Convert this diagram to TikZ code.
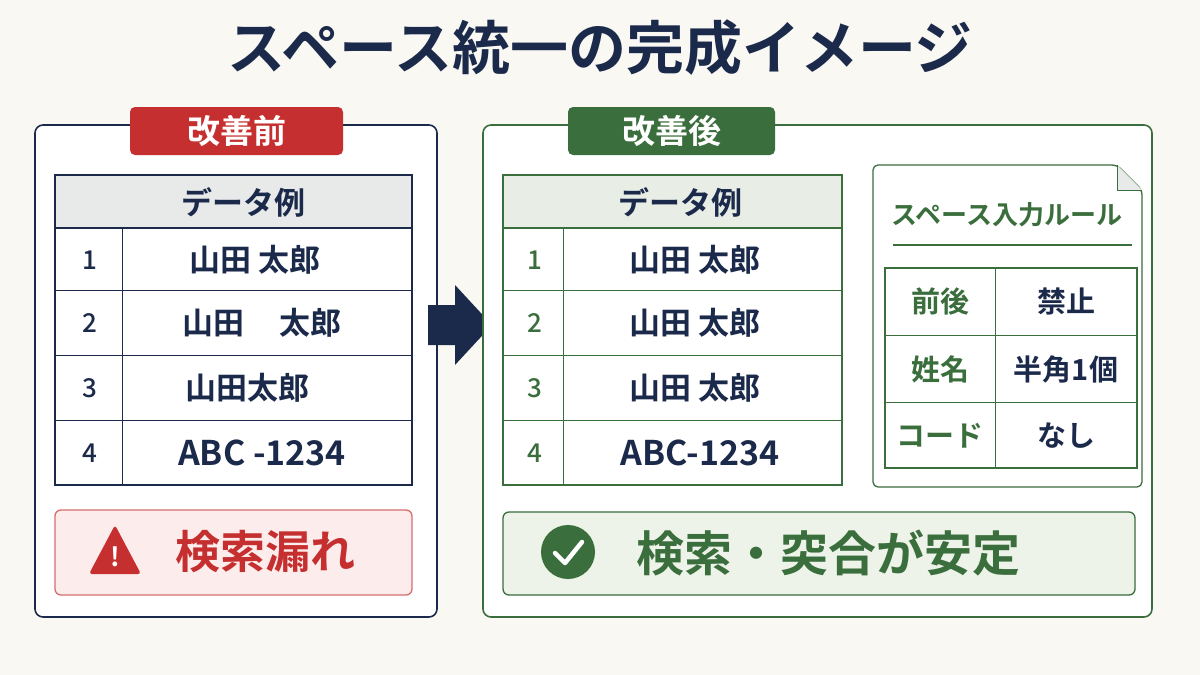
\documentclass[tikz,border=0pt]{standalone}
\usepackage{fontspec}
\setmainfont{Noto Sans CJK JP}[BoldFont={* Bold}]
\newfontfamily\jpb{Noto Sans CJK JP Bold}
\newfontfamily\jpm{Noto Sans CJK JP Medium}
\usetikzlibrary{shapes.geometric}
\definecolor{bg}{HTML}{FAF8F3}
\definecolor{navy}{HTML}{1B2A4A}
\definecolor{redc}{HTML}{C62F2F}
\definecolor{redl}{HTML}{FCEDEC}
\definecolor{grn}{HTML}{3A6E3C}
\definecolor{grnl}{HTML}{EEF3EA}
\definecolor{hdr}{HTML}{E8E9E9}
\definecolor{hdrg}{HTML}{E8EDE6}
\tikzset{
 panel/.style={line width=1.6pt, rounded corners=8pt, fill=white},
 tag/.style={rounded corners=5pt, text=white, font=\jpb\fontsize{33}{33}\selectfont},
 cell/.style={font=\jpb\fontsize{31}{31}\selectfont, text=navy},
 rc/.style={font=\jpb\fontsize{29}{29}\selectfont},
 num/.style={font=\jpm\fontsize{26}{26}\selectfont},
}
\begin{document}
\begin{tikzpicture}[x=1pt,y=-1pt]
\fill[bg] (0,0) rectangle (1200,675);
\useasboundingbox (0,0) rectangle (1200,675);
\node[font=\jpb\fontsize{58}{58}\selectfont, text=navy] (title) at (600,48) {スペース統一の完成イメージ};
% left panel
\draw[panel, draw=navy] (35,125) rectangle (437,617);
\fill[tag, fill=redc] (130,107) rectangle (343,155);
\node[tag] (tagL) at (236.5,131) {改善前};
\draw[navy, line width=1.2pt, fill=hdr] (55,175) rectangle (412,228);
\draw[navy, line width=1.2pt] (55,175) rectangle (412,485);
\foreach \y in {228,290,355,420} \draw[navy, line width=1pt] (55,\y) -- (412,\y);
\draw[navy, line width=1pt] (122,228) -- (122,485);
\node[cell] (hL) at (243,202) {データ例};
\node[num,text=navy] (l1) at (90,260) {1};
\node[num,text=navy] (l2) at (90,323) {2};
\node[num,text=navy] (l3) at (90,388) {3};
\node[num,text=navy] (l4) at (90,453) {4};
\node[cell] (t1) at (255,260) {山田 太郎};
\node[cell] (t2) at (262,323) {山田\hspace{1.1em}太郎};
\node[cell] (t3) at (247,388) {山田太郎};
\node[cell,font=\jpb\fontsize{34}{34}\selectfont] (t4) at (262,453) {ABC -1234};
\draw[redc!70, line width=1.3pt, fill=redl, rounded corners=6pt] (55,510) rectangle (412,595);
\fill[redc, rounded corners=3pt] (115,525) -- (141,574) -- (89,574) -- cycle;
\node[text=white, font=\jpb\fontsize{26}{26}\selectfont] (ex) at (115,557) {!};
\node[text=redc, font=\jpb\fontsize{45}{45}\selectfont] (warn) at (265,552) {検索漏れ};
% arrow
\fill[navy] (428,305) -- (455,305) -- (455,285) -- (492,325) -- (455,365) -- (455,345) -- (428,345) -- cycle;
% right panel
\draw[panel, draw=grn] (483,125) rectangle (1152,617);
\fill[tag, fill=grn] (568,107) rectangle (775,155);
\node[tag] (tagR) at (671.5,131) {改善後};
\draw[grn, line width=1.2pt, fill=hdrg] (503,175) rectangle (842,228);
\draw[grn, line width=1.2pt] (503,175) rectangle (842,485);
\foreach \y in {228,290,355,420} \draw[grn, line width=1pt] (503,\y) -- (842,\y);
\draw[grn, line width=1pt] (563,228) -- (563,485);
\node[cell] (hR) at (680,202) {データ例};
\foreach \n/\y in {1/260,2/323,3/388} {
 \node[num,text=grn] (r\n) at (535,\y) {\n};
 \node[cell] (s\n) at (695,\y) {山田 太郎};
}
\node[num,text=grn] (r4) at (535,453) {4};
\node[cell,font=\jpb\fontsize{34}{34}\selectfont] (s4) at (700,453) {ABC-1234};
% rule card
\draw[grn, line width=1.3pt, fill=white, rounded corners=5pt] (873,165) -- (1117,165) -- (1142,190) -- (1142,487) -- (873,487) -- cycle;
\draw[grn, line width=1pt, fill=hdr] (1117,165) -- (1117,190) -- (1142,190);
\node[font=\jpb\fontsize{26}{26}\selectfont, text=grn] (rt) at (1007,215) {スペース入力ルール};
\draw[grn, line width=1.2pt] (893,245) -- (1132,245);
\draw[grn, line width=1.1pt] (885,268) rectangle (1137,468);
\draw[grn, line width=1pt] (885,335) -- (1137,335) (885,402) -- (1137,402) (995,268) -- (995,468);
\node[rc,text=grn] (a1) at (940,301) {前後};
\node[rc,text=grn] (a2) at (940,369) {姓名};
\node[rc,text=grn] (a3) at (940,436) {コード};
\node[rc,text=navy] (b1) at (1066,301) {禁止};
\node[rc,text=navy] (b2) at (1066,369) {半角1個};
\node[rc,text=navy] (b3) at (1066,436) {なし};
% ok box
\draw[grn, line width=1.3pt, fill=grnl, rounded corners=6pt] (503,512) rectangle (1135,595);
\fill[grn] (568,552) circle (27);
\draw[white, line width=4.5pt, line cap=round, line join=round] (555,553) -- (565,563) -- (582,542);
\node[text=grn, font=\jpb\fontsize{48}{48}\selectfont] (ok) at (828,553) {検索・突合が安定};
\end{tikzpicture}
\end{document}
